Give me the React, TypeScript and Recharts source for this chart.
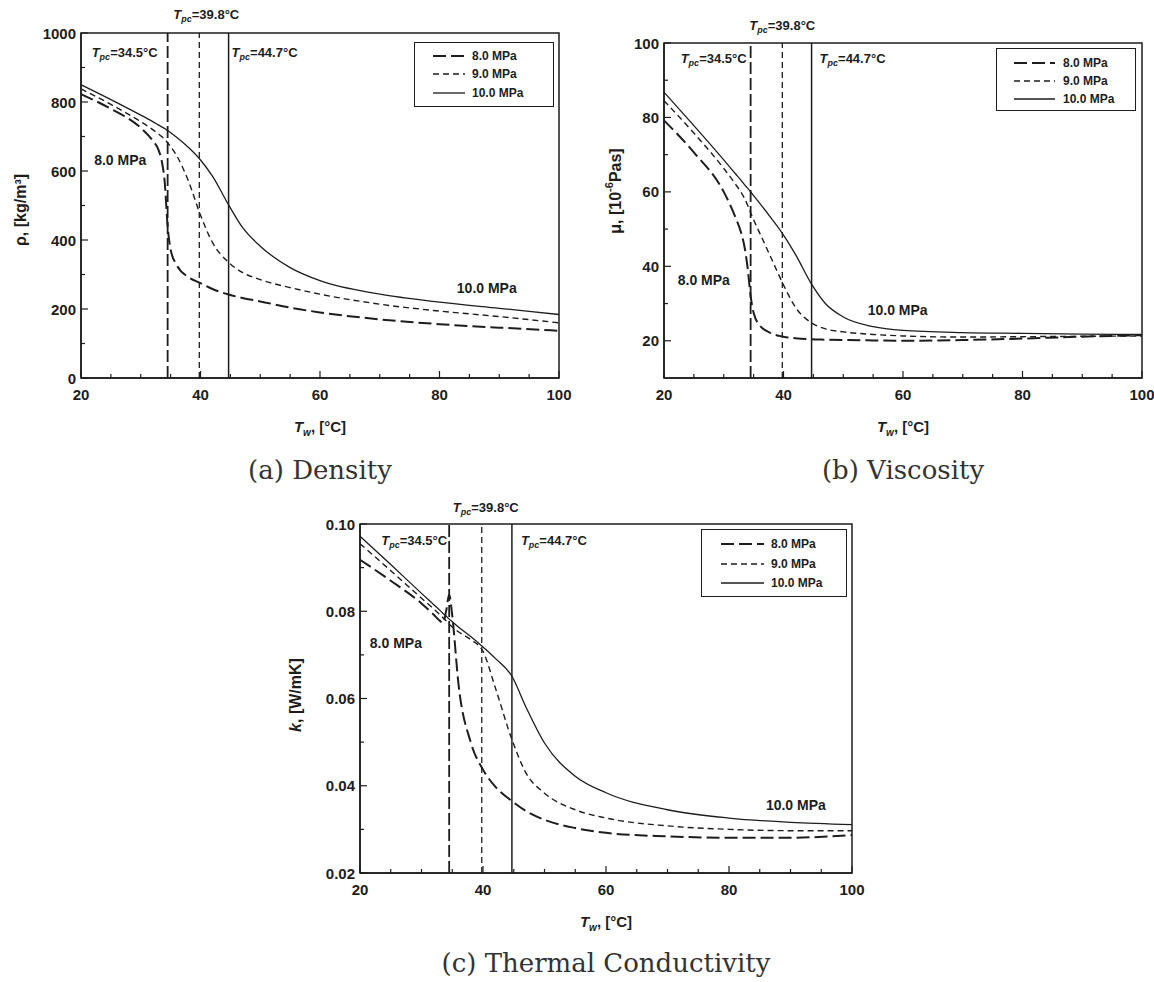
import React from 'react';
import {
  LineChart,
  Line,
  XAxis,
  YAxis,
  ReferenceLine,
  ReferenceArea,
  ReferenceDot,
} from 'recharts';

// wall temperature samples, °C
const temps = [20, 25, 30, 32, 33, 33.5, 34, 34.5, 35, 36, 38, 40, 42, 44.7, 47, 50, 55, 60, 70, 80, 90, 100];

// density, kg/m3
const rho8 = [823, 780, 725, 688, 660, 630, 570, 440, 372, 328, 292, 275, 258, 242, 232, 222, 204, 190, 170, 156, 146, 137];
const rho9 = [838, 793, 743, 720, 707, 700, 692, 682, 671, 645, 570, 472, 393, 335, 306, 285, 262, 243, 214, 194, 178, 160];
const rho10 = [850, 807, 762, 743, 733, 728, 723, 717, 711, 698, 668, 632, 585, 502, 437, 382, 320, 282, 243, 220, 202, 184];

// viscosity, 1e-6 Pa s
const mu8 = [79.2, 70.6, 60, 53, 48.5, 45, 39.5, 32, 27.5, 24.2, 22, 21.1, 20.7, 20.4, 20.3, 20.2, 20.1, 20, 20.2, 20.6, 21.1, 21.5];
const mu9 = [84.5, 75.8, 66.3, 62, 59.6, 58.2, 56.4, 54.4, 52.5, 49, 42, 35, 29, 24.8, 23.2, 22.4, 21.7, 21.3, 21, 21.1, 21.2, 21.3];
const mu10 = [86.8, 77.8, 68.6, 64.8, 62.9, 61.9, 61, 60, 59, 57, 52.8, 48.4, 43.2, 35.2, 30, 26.4, 23.8, 22.8, 22.2, 22, 21.8, 21.7];

// thermal conductivity, W/mK
const k8 = [0.0918, 0.087, 0.0818, 0.0792, 0.0778, 0.0773, 0.08, 0.0838, 0.079, 0.0635, 0.05, 0.0437, 0.0398, 0.0365, 0.0342, 0.0322, 0.0303, 0.0292, 0.0284, 0.0281, 0.0281, 0.0287];
const k9 = [0.0955, 0.0893, 0.083, 0.0805, 0.0792, 0.0785, 0.0778, 0.077, 0.0764, 0.0753, 0.0735, 0.0708, 0.0625, 0.0506, 0.0429, 0.0383, 0.0345, 0.0326, 0.0308, 0.03, 0.0297, 0.0297];
const k10 = [0.0972, 0.0907, 0.0841, 0.0815, 0.0802, 0.0795, 0.0789, 0.0782, 0.0776, 0.0764, 0.0742, 0.0718, 0.0692, 0.0651, 0.058, 0.0498, 0.0422, 0.0384, 0.0345, 0.0326, 0.0316, 0.0311];

const tempTicks = [20, 40, 60, 80, 100];
const tempMinor = [25, 30, 35, 45, 50, 55, 65, 70, 75, 85, 90, 95];
const rhoTicks = [0, 200, 400, 600, 800, 1000];
const rhoMinor = [100, 300, 500, 700, 900];
const muTicks = [20, 40, 60, 80, 100];
const muMinor = [30, 50, 70, 90];
const kTicks = [0.02, 0.04, 0.06, 0.08, 0.1];
const kMinor = [0.03, 0.05, 0.07, 0.09];

const pcTemps = [34.5, 39.8, 44.7];
const pressures = ['8.0 MPa', '9.0 MPa', '10.0 MPa'];

const INK = '#1d1d1d';
const SANS = '"Liberation Sans", Arial, sans-serif';
const SERIF = '"DejaVu Serif", serif';

const seriesStyle = [
  { key: 'p8', dash: '13 5', w: 2 },
  { key: 'p9', dash: '6 4', w: 1.4 },
  { key: 'p10', dash: undefined, w: 1.3 },
];
const refStyle = [
  { dash: '12 4', w: 1.8 },
  { dash: '6 4', w: 1.3 },
  { dash: undefined, w: 1.5 },
];

const rowsOf = (a: number[], b: number[], c: number[]) =>
  temps.map((t, i) => ({ t, p8: a[i], p9: b[i], p10: c[i] }));

const pcLabel = (temp: number, dx: number, dy: number, anchor: any) => (p: any) => {
  const vb = p.viewBox || { x: 0, y: 0 };
  return (
    <text x={vb.x + dx} y={vb.y + dy} textAnchor={anchor} fontFamily={SANS} fontSize={13} fontWeight="bold" fill={INK}>
      <tspan fontStyle="italic">T</tspan>
      <tspan fontStyle="italic" fontSize={9} dy={3}>pc</tspan>
      <tspan dy={-3}>={temp}°C</tspan>
    </text>
  );
};

const noteLabel = (text: string) => (p: any) => {
  const vb = p.viewBox || { x: 0, y: 0 };
  return (
    <text x={vb.x} y={vb.y} dominantBaseline="central" fontFamily={SANS} fontSize={14} fontWeight="bold" fill={INK}>
      {text}
    </text>
  );
};

const Panel = ({ cfg }: any) => {
  const { left, top, width, height, margin, yw, xh, yDomain, yTicks, yMinor, fmt, rows, yTitle, yTitlePos, pc, notes, legend } = cfg;
  const plotLeft = margin.left + yw;
  const plotBottom = height - xh;

  const xTick = (p: any) => {
    const v = p.payload.value;
    const major = tempTicks.includes(v);
    return (
      <g>
        <line x1={p.x} x2={p.x} y1={plotBottom} y2={plotBottom - (major ? 7 : 4)} stroke={INK} strokeWidth={1.2} />
        {major && (
          <text x={p.x} y={plotBottom + 22} textAnchor="middle" fontFamily={SANS} fontSize={15} fontWeight="bold" fill={INK}>
            {v}
          </text>
        )}
      </g>
    );
  };
  const yTick = (p: any) => {
    const v = p.payload.value;
    const major = yTicks.includes(v);
    return (
      <g>
        <line x1={plotLeft} x2={plotLeft + (major ? 7 : 4)} y1={p.y} y2={p.y} stroke={INK} strokeWidth={1.2} />
        {major && (
          <text x={plotLeft - 5} y={p.y} textAnchor="end" dominantBaseline="central" fontFamily={SANS} fontSize={15} fontWeight="bold" fill={INK}>
            {fmt(v)}
          </text>
        )}
      </g>
    );
  };
  const xTitle = (p: any) => {
    const vb = p.viewBox;
    return (
      <text x={vb.x + vb.width / 2} y={plotBottom + 54} textAnchor="middle" fontFamily={SANS} fontSize={15} fontWeight="bold" fill={INK}>
        <tspan fontStyle="italic">T</tspan>
        <tspan fontStyle="italic" fontSize={10} dy={4}>w</tspan>
        <tspan dy={-4}>, [°C]</tspan>
      </text>
    );
  };
  const yTitleFn = () => (
    <text
      x={yTitlePos.x}
      y={yTitlePos.y}
      transform={`rotate(-90 ${yTitlePos.x} ${yTitlePos.y})`}
      textAnchor="middle"
      dominantBaseline="central"
      fontFamily={SANS}
      fontSize={16}
      fontWeight="bold"
      fill={INK}
    >
      {yTitle}
    </text>
  );

  return (
    <div style={{ position: 'absolute', left, top, width, height }}>
      <LineChart width={width} height={height} data={rows} margin={margin}>
        <XAxis
          dataKey="t"
          type="number"
          domain={[20, 100]}
          ticks={[...tempTicks, ...tempMinor]}
          interval={0}
          tick={xTick}
          tickLine={false}
          axisLine={{ stroke: INK, strokeWidth: 1.5 }}
          height={xh}
          label={xTitle}
        />
        <YAxis
          type="number"
          domain={yDomain}
          ticks={[...yTicks, ...yMinor]}
          interval={0}
          tick={yTick}
          tickLine={false}
          axisLine={{ stroke: INK, strokeWidth: 1.5 }}
          width={yw}
          label={yTitleFn}
        />
        <ReferenceArea x1={20} x2={100} y1={yDomain[0]} y2={yDomain[1]} fill="none" fillOpacity={0} stroke={INK} strokeWidth={1.5} />
        {pcTemps.map((t, i) => (
          <ReferenceLine
            key={t}
            x={t}
            stroke={INK}
            strokeWidth={refStyle[i].w}
            strokeDasharray={refStyle[i].dash}
            label={pcLabel(t, pc[i].dx, pc[i].dy, pc[i].anchor)}
          />
        ))}
        {seriesStyle.map((s) => (
          <Line
            key={s.key}
            dataKey={s.key}
            type="monotone"
            stroke={INK}
            strokeWidth={s.w}
            strokeDasharray={s.dash}
            dot={false}
            isAnimationActive={false}
          />
        ))}
        {notes.map((n: any) => (
          <ReferenceDot key={n.text} x={n.x} y={n.y} r={0} fill="none" stroke="none" label={noteLabel(n.text)} />
        ))}
      </LineChart>
      <div
        style={{
          position: 'absolute',
          left: legend.left,
          top: legend.top,
          width: legend.width,
          height: legend.height,
          border: `1.5px solid ${INK}`,
          boxSizing: 'border-box',
          background: '#fff',
        }}
      >
        {pressures.map((name, i) => (
          <div
            key={name}
            style={{ position: 'absolute', left: 0, top: legend.rows[i] - 9, height: 18, width: '100%', display: 'flex', alignItems: 'center' }}
          >
            <svg width={legend.textX} height={18} style={{ flex: 'none' }}>
              <line
                x1={legend.lineX[0]}
                x2={legend.lineX[1]}
                y1={9}
                y2={9}
                stroke={INK}
                strokeWidth={seriesStyle[i].w}
                strokeDasharray={seriesStyle[i].dash}
              />
            </svg>
            <span style={{ fontFamily: SANS, fontSize: 12, fontWeight: 'bold', color: INK }}>{name}</span>
          </div>
        ))}
      </div>
    </div>
  );
};

const panels = [
  {
    left: 0, top: 0, width: 580, height: 440,
    margin: { top: 33, right: 21, bottom: 0, left: 0 }, yw: 81, xh: 62,
    yDomain: [0, 1000], yTicks: rhoTicks, yMinor: rhoMinor, fmt: (v: number) => String(v),
    rows: rowsOf(rho8, rho9, rho10),
    yTitle: 'ρ, [kg/m³]', yTitlePos: { x: 20, y: 210 },
    pc: [
      { dx: -10, dy: 24, anchor: 'end' },
      { dx: -26, dy: -14, anchor: 'start' },
      { dx: 3, dy: 24, anchor: 'start' },
    ],
    notes: [
      { x: 22.2, y: 632, text: '8.0 MPa' },
      { x: 82.9, y: 261, text: '10.0 MPa' },
    ],
    legend: { left: 414, top: 42, width: 140, height: 65, rows: [13, 31, 50], lineX: [18, 50], textX: 57 },
  },
  {
    left: 580, top: 0, width: 574, height: 440,
    margin: { top: 43, right: 12, bottom: 0, left: 0 }, yw: 84, xh: 62,
    yDomain: [10, 100], yTicks: muTicks, yMinor: muMinor, fmt: (v: number) => String(v),
    rows: rowsOf(mu8, mu9, mu10),
    yTitle: (
      <>
        μ, [10<tspan dy={-6} fontSize={11}>-6</tspan>
        <tspan dy={6}>Pas]</tspan>
      </>
    ),
    yTitlePos: { x: 35, y: 191 },
    pc: [
      { dx: -4, dy: 20, anchor: 'end' },
      { dx: -33, dy: -13, anchor: 'start' },
      { dx: 8, dy: 20, anchor: 'start' },
    ],
    notes: [
      { x: 22.3, y: 36.3, text: '8.0 MPa' },
      { x: 54.1, y: 28.3, text: '10.0 MPa' },
    ],
    legend: { left: 416, top: 48, width: 140, height: 63, rows: [14, 32, 50], lineX: [17, 58], textX: 66 },
  },
  {
    left: 280, top: 480, width: 600, height: 460,
    margin: { top: 44, right: 28, bottom: 0, left: 0 }, yw: 80, xh: 67,
    yDomain: [0.02, 0.1], yTicks: kTicks, yMinor: kMinor, fmt: (v: number) => v.toFixed(2),
    rows: rowsOf(k8, k9, k10),
    yTitle: (
      <>
        <tspan fontStyle="italic">k</tspan>, [W/mK]
      </>
    ),
    yTitlePos: { x: 15, y: 215 },
    pc: [
      { dx: -2, dy: 21, anchor: 'end' },
      { dx: -29, dy: -12, anchor: 'start' },
      { dx: 9, dy: 21, anchor: 'start' },
    ],
    notes: [
      { x: 21.6, y: 0.0727, text: '8.0 MPa' },
      { x: 86.0, y: 0.0356, text: '10.0 MPa' },
    ],
    legend: { left: 421, top: 49, width: 146, height: 68, rows: [14, 34, 53], lineX: [19, 62], textX: 69 },
  },
];

const captions = [
  { text: '(a) Density', x: 320, top: 455 },
  { text: '(b) Viscosity', x: 903, top: 455 },
  { text: '(c) Thermal Conductivity', x: 606, top: 948 },
];

export default function App() {
  return (
    <div style={{ position: 'absolute', left: 0, top: 0, width: 1154, height: 982, background: '#fff', overflow: 'hidden' }}>
      {panels.map((cfg, i) => (
        <Panel key={i} cfg={cfg} />
      ))}
      {captions.map((c) => (
        <div
          key={c.text}
          style={{
            position: 'absolute',
            left: c.x - 250,
            top: c.top,
            width: 500,
            textAlign: 'center',
            fontFamily: SERIF,
            fontSize: 26,
            lineHeight: '30px',
            color: '#333',
          }}
        >
          {c.text}
        </div>
      ))}
    </div>
  );
}
